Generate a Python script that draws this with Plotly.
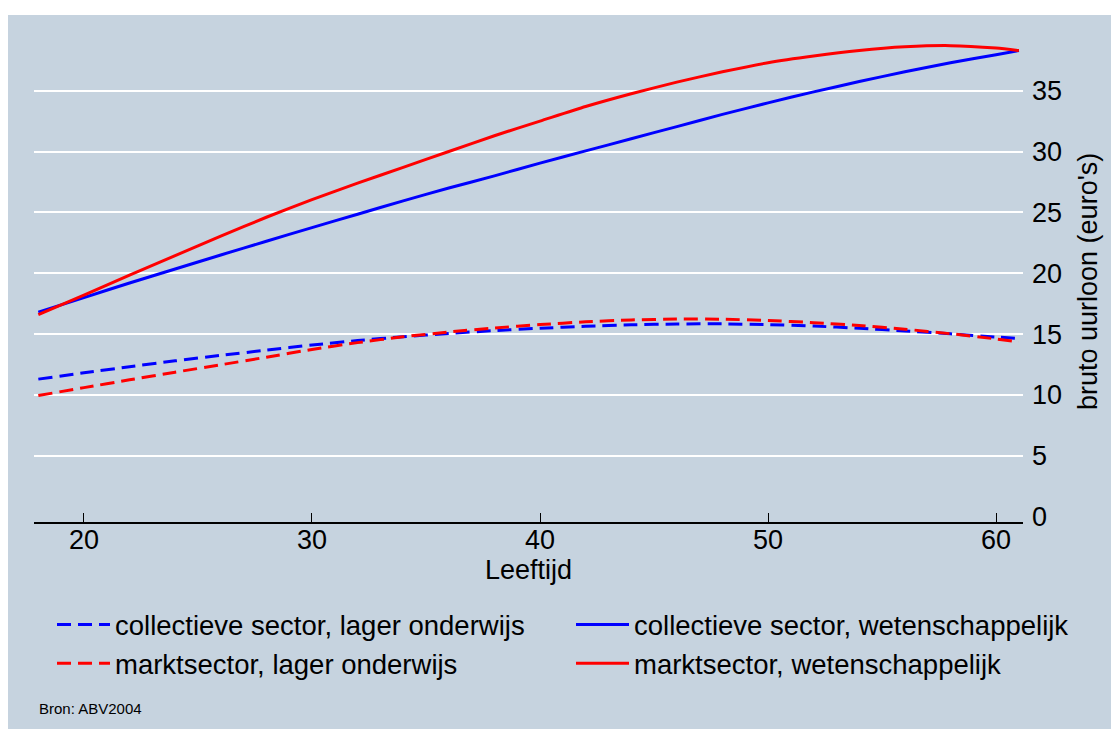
import plotly.graph_objects as go

ages = [18, 20, 22, 24, 26, 28, 30, 32, 34, 36, 38, 40, 42, 44, 46, 48, 50, 52, 54, 56, 58, 60, 61]

coll_lager = [11.30, 11.82, 12.32, 12.80, 13.25, 13.68, 14.10, 14.47, 14.78, 15.05, 15.29, 15.48,
              15.64, 15.76, 15.83, 15.84, 15.78, 15.66, 15.48, 15.26, 15.02, 14.76, 14.64]
markt_lager = [9.95, 10.60, 11.24, 11.87, 12.48, 13.10, 13.74, 14.30, 14.78, 15.17, 15.50, 15.78,
               16.01, 16.16, 16.23, 16.22, 16.12, 15.94, 15.70, 15.40, 15.03, 14.60, 14.36]
coll_wet = [16.8, 18.0, 19.2, 20.35, 21.5, 22.63, 23.75, 24.85, 25.95, 27.0, 28.0, 29.05,
            30.05, 31.05, 32.05, 33.05, 34.0, 34.9, 35.75, 36.55, 37.3, 37.95, 38.3]
markt_wet = [16.6, 18.2, 19.85, 21.45, 23.05, 24.6, 26.05, 27.4, 28.7, 30.0, 31.3, 32.5,
             33.7, 34.75, 35.7, 36.55, 37.3, 37.85, 38.3, 38.6, 38.7, 38.5, 38.3]

names = ["collectieve sector, lager onderwijs", "collectieve sector, wetenschappelijk",
         "marktsector, lager onderwijs", "marktsector, wetenschappelijk"]
x_ticks = [20, 30, 40, 50, 60]
y_ticks = [0, 5, 10, 15, 20, 25, 30, 35]

BG = "#c6d3df"
FONT = "Liberation Sans, Arial, sans-serif"
DASH = "14px,7px"
FS = 27
LFS = 27.5

fig = go.Figure()
series = [(coll_lager, "#0000ff", DASH, names[0], "legend"),
          (coll_wet, "#0000ff", "solid", names[1], "legend2"),
          (markt_lager, "#ff0000", DASH, names[2], "legend"),
          (markt_wet, "#ff0000", "solid", names[3], "legend2")]
for ys, col, dash, nm, lg in series:
    fig.add_trace(go.Scatter(x=ages, y=ys, mode="lines", name=nm, legend=lg,
                             line=dict(color=col, width=3, dash=dash, shape="spline", smoothing=0.6)))

# page body has an 8px margin, so figure coords = screen coords - 8
W, H = 1111, 721
L, R, T, B = 26, 1015, 34, 514
pw, ph = R - L, B - T

def px_x(p):
    return (p - L) / pw

def px_y(p):
    return (B - p) / ph

fig.add_shape(type="rect", xref="paper", yref="paper",
              x0=px_x(-5), x1=px_x(W + 5), y0=px_y(H + 5), y1=px_y(7),
              fillcolor=BG, line=dict(width=0), layer="below")

leg_common = dict(orientation="v", xref="container", yref="container",
                  xanchor="left", yanchor="top", itemwidth=53,
                  bgcolor="rgba(0,0,0,0)", font=dict(size=LFS), tracegroupgap=0)

fig.update_layout(
    width=W, height=H,
    margin=dict(l=L, r=W - R, t=T, b=H - B, pad=0, autoexpand=False),
    paper_bgcolor="white", plot_bgcolor=BG,
    font=dict(family=FONT, size=FS, color="black"),
    showlegend=True,
    legend=dict(x=44 / W, y=1 - 592 / H, **leg_common),
    legend2=dict(x=563 / W, y=1 - 592 / H, **leg_common),
    xaxis=dict(range=[17.81, 61.18], tickvals=x_ticks, showgrid=False, zeroline=False,
               showline=True, linecolor="black", linewidth=1.5,
               ticks="inside", ticklen=9, tickwidth=1.2, tickcolor="black",
               ticklabelstandoff=-7,
               tickfont=dict(size=FS)),
    yaxis=dict(range=[-0.44, 39.0], tickvals=y_ticks, side="right",
               showgrid=True, gridcolor="white", gridwidth=2,
               zeroline=True, zerolinecolor=BG, zerolinewidth=1,
               showline=False, ticks="", ticklabelstandoff=8,
               tickfont=dict(size=FS)),
    annotations=[
        dict(text="Leeftijd", xref="paper", yref="paper",
             x=0.5, y=px_y(562), xanchor="center", yanchor="middle",
             showarrow=False, font=dict(size=FS, color="black")),
        dict(text="bruto uurloon (euro's)", xref="paper", yref="paper", textangle=-90,
             x=px_x(1080), y=0.5, xanchor="center", yanchor="middle",
             showarrow=False, font=dict(size=FS, color="black")),
        dict(text="Bron: ABV2004", xref="paper", yref="paper",
             x=px_x(29), y=px_y(700), xanchor="left", yanchor="middle",
             showarrow=False, font=dict(size=15, color="black")),
    ],
)

fig.write_html("out.html")
